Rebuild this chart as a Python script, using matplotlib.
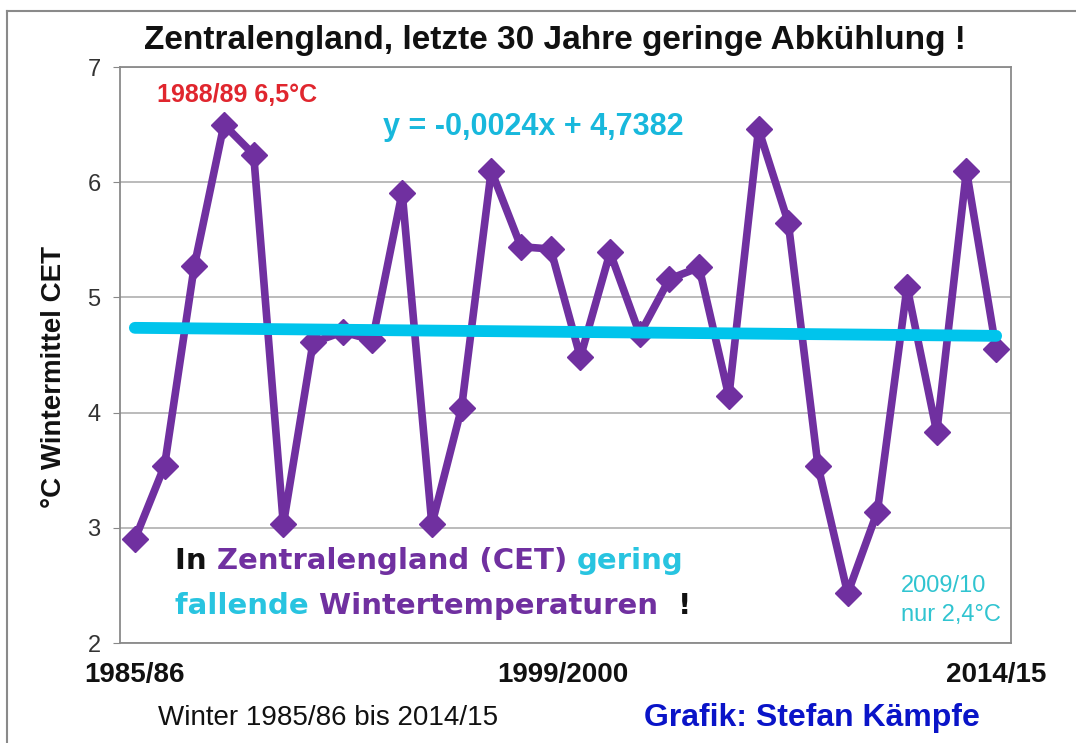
import numpy as np
import matplotlib
matplotlib.use("Agg")
import matplotlib.pyplot as plt
from matplotlib.lines import Line2D

plt.rcParams['font.family'] = ['Liberation Sans', 'DejaVu Sans']

# winter means CET, 1985/86 .. 2014/15
winters = ['1985/86', '1986/87', '1987/88', '1988/89', '1989/90', '1990/91',
           '1991/92', '1992/93', '1993/94', '1994/95', '1995/96', '1996/97',
           '1997/98', '1998/99', '1999/2000', '2000/01', '2001/02', '2002/03',
           '2003/04', '2004/05', '2005/06', '2006/07', '2007/08', '2008/09',
           '2009/10', '2010/11', '2011/12', '2012/13', '2013/14', '2014/15']
temps = [2.90, 3.54, 5.27, 6.50, 6.24, 3.03, 4.61, 4.70, 4.63, 5.91,
         3.03, 4.04, 6.10, 5.44, 5.42, 4.48, 5.39, 4.68, 5.16, 5.26,
         4.14, 6.46, 5.65, 3.54, 2.43, 3.14, 5.09, 3.83, 6.10, 4.55]
slope = -0.0024
intercept = 4.7382
shown_ticks = ['1985/86', '1999/2000', '2014/15']
y_ticks = [2, 3, 4, 5, 6, 7]

PURPLE = '#7030a0'
CYAN = '#00c4ec'

W, H = 1076, 743
fig = plt.figure(figsize=(W / 100, H / 100), dpi=100)


def px(x, y):
    return x / W, 1 - y / H


ax = fig.add_axes([120 / W, 1 - 643 / H, (1011 - 120) / W, (643 - 67) / H])

pos = np.arange(len(temps))
ax.plot(pos, temps, color=PURPLE, lw=5.5, marker='D', ms=13, zorder=3)

# linear trend like Excel (x = 1..n)
xt = pos + 1
ax.plot(pos, slope * xt + intercept, color=CYAN, lw=8.5,
        solid_capstyle='round', zorder=4)

ax.set_xlim(-0.5, len(temps) - 0.5)
ax.set_ylim(2, 7)
ax.set_yticks(y_ticks)
ax.set_yticklabels([str(v) for v in y_ticks], fontsize=17, color='#333333')
tick_pos = [winters.index(t) for t in shown_ticks]
tick_pos[1] += 0.4
ax.set_xticks(tick_pos)
ax.set_xticklabels(shown_ticks, fontsize=20, fontweight='bold', color='#111111')
ax.tick_params(axis='x', length=0, pad=14)
ax.tick_params(axis='y', length=5, color='#888888', pad=9)
ax.grid(axis='y', color='#b5b5b5', lw=1.3)
ax.set_axisbelow(True)
for s in ax.spines.values():
    s.set_color('#8a8a8a')
    s.set_linewidth(1.3)

fig.text(*px(54, 377), '°C Wintermittel CET', fontsize=20, fontweight='bold',
         color='#111111', rotation=90, ha='center', va='center')

# outer frame (left + top)
fig.add_artist(Line2D([7 / W, 7 / W], [0, 1 - 11 / H], color='#8a8a8a', lw=1.5))
fig.add_artist(Line2D([7 / W, 1], [1 - 11 / H, 1 - 11 / H], color='#8a8a8a', lw=1.5))

fig.text(*px(555, 40), 'Zentralengland, letzte 30 Jahre geringe Abkühlung !',
         fontsize=24, fontweight='bold', color='#111111', ha='center', va='center')

fig.text(*px(157, 95), '1988/89 6,5°C', fontsize=18, fontweight='bold',
         color='#e0262e', ha='left', va='center')
fig.text(*px(383, 127), 'y = -0,0024x + 4,7382', fontsize=22, fontweight='bold',
         color='#18b8dc', ha='left', va='center')
fig.text(*px(901, 586), '2009/10', fontsize=17, color='#30c4d0', ha='left', va='center')
fig.text(*px(901, 615), 'nur 2,4°C', fontsize=17, color='#30c4d0', ha='left', va='center')

fig.text(*px(328, 718), 'Winter 1985/86 bis 2014/15', fontsize=20,
         color='#111111', ha='center', va='center')
fig.text(*px(812, 718), 'Grafik: Stefan Kämpfe', fontsize=23, fontweight='bold',
         color='#0a14c8', ha='center', va='center')

# two-line coloured statement
renderer = fig.canvas.get_renderer()


def colored_line(x, y, parts, size=21):
    for txt, col in parts:
        t = fig.text(*px(x, y), txt, fontsize=size, fontweight='bold',
                     family=['DejaVu Sans'], color=col, ha='left', va='center')
        bb = t.get_window_extent(renderer=renderer)
        x += bb.width


colored_line(175, 561, [('In ', '#111111'), ('Zentralengland (CET) ', PURPLE),
                        ('gering', '#28c4e0')])
colored_line(175, 606, [('fallende ', '#28c4e0'), ('Wintertemperaturen  ', PURPLE),
                        ('!', '#111111')])

fig.savefig('out.png', dpi=100)
